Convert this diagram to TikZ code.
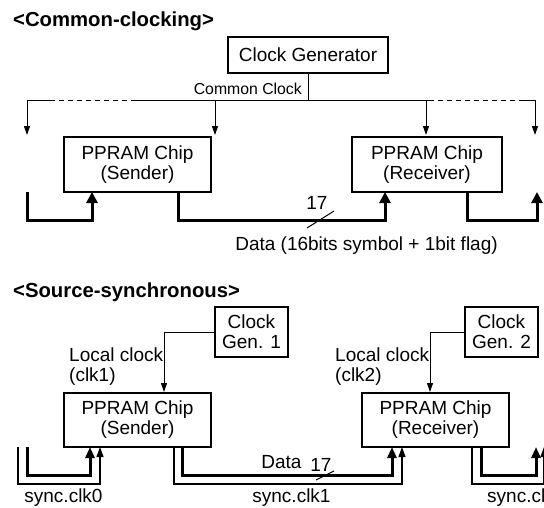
\documentclass[tikz,border=0pt]{standalone}
\usepackage{fontspec}
\setmainfont{Liberation Sans}
\usetikzlibrary{arrows.meta}
\begin{document}
\begin{tikzpicture}[x=1pt,y=-1pt,
  box/.style={draw,line width=1.1pt,inner sep=0pt,align=center,
    font=\fontsize{19}{20}\selectfont},
  lbl/.style={inner sep=0pt,font=\fontsize{19}{20}\selectfont},
  small/.style={inner sep=0pt,font=\fontsize{15.8}{18}\selectfont},
  ttl/.style={inner sep=0pt,font=\fontsize{20.3}{22}\selectfont\bfseries},
  wire/.style={line width=1pt},
  dashwire/.style={line width=1pt,dash pattern=on 5pt off 4pt},
  clk/.style={line width=1pt,-{Triangle[width=6pt,length=9pt]}},
  bus/.style={line width=3pt,-{Triangle[width=11pt,length=11pt]}},
  sbus/.style={line width=3pt,-{Triangle[width=9pt,length=11pt]}},
  sclk/.style={line width=1.2pt,-{Triangle[width=7pt,length=10pt]}},
]
\useasboundingbox (0,0) rectangle (544,507);
\clip (0,0) rectangle (544,507);

% ---------------- common clocking ----------------
\node[ttl,anchor=base west] (t1) at (13,26.5) {<Common-clocking>};
\node[box,minimum width=160pt,minimum height=36pt] (cg) at (308,55) {Clock Generator};
\node[small,anchor=base east] (cc) at (302,94) {Common Clock};

\node[box,minimum width=147pt,minimum height=55pt] (s1) at (137.5,164.5)
  {PPRAM Chip\\(Sender)};
\node[box,minimum width=150pt,minimum height=55pt] (r1) at (427,164.5)
  {PPRAM Chip\\(Receiver)};

% clock distribution line
\coordinate (jn)  at (308,100);
\coordinate (tA)  at (27,100);
\coordinate (tB)  at (215,100);
\coordinate (tC)  at (426,100);
\coordinate (tD)  at (535,100);
\coordinate (dA1) at (50,100);
\coordinate (dA2) at (132,100);
\coordinate (dD1) at (429,100);
\coordinate (dD2) at (519,100);
\coordinate (eA)  at (27,135);
\coordinate (eB)  at (215,135);
\coordinate (eC)  at (426,135);
\coordinate (eD)  at (535,135);

\draw[wire] (cg.south) -- (jn);
\draw[wire] (tA) -- (dA1);
\draw[dashwire] (dA1) -- (dA2);
\draw[wire] (dA2) -- (dD1);
\draw[dashwire] (dD1) -- (dD2);
\draw[wire] (dD2) -- (tD);
\draw[clk] (tA) -- (eA);
\draw[clk] (tB) -- (eB);
\draw[clk] (tC) -- (eC);
\draw[clk] (tD) -- (eD);

% data buses
\coordinate (bL0) at (27,192);
\coordinate (bL1) at (92,192);
\coordinate (bM0) at (178,192);
\coordinate (bM1) at (385,192);
\coordinate (bR0) at (467,192);
\coordinate (bR1) at (537,192);
\draw[bus] (bL0) -- (27,220) -- (92,220) -- (bL1);
\draw[bus] (bM0) -- (178,220) -- (385,220) -- (bM1);
\draw[bus] (bR0) -- (467,220) -- (537,220) -- (bR1);

\node[lbl] (n17a) at (317,203) {17};
\coordinate (sa1) at (307,228);
\coordinate (sa2) at (334,211);
\draw[wire] (sa1) -- (sa2);
\node[lbl] (dat1) at (366.5,246) {Data (16bits symbol + 1bit flag)};

% ---------------- source synchronous ----------------
\node[ttl,anchor=base west] (t2) at (13,297) {<Source-synchronous>};
\node[box,minimum width=73pt,minimum height=50pt] (g1) at (251.5,332) {Clock\\Gen. 1};
\node[box,minimum width=73pt,minimum height=50pt] (g2) at (501.5,332) {Clock\\Gen. 2};

\node[box,minimum width=147pt,minimum height=54pt] (s2) at (137.5,420)
  {PPRAM Chip\\(Sender)};
\node[box,minimum width=147pt,minimum height=54pt] (r2) at (435.5,420)
  {PPRAM Chip\\(Receiver)};

\node[lbl,align=left,anchor=west] (lc1) at (69,367) {Local clock\\(clk1)};
\node[lbl,align=left,anchor=west] (lc2) at (335,367) {Local clock\\(clk2)};

\coordinate (k1) at (164,392);
\coordinate (k2) at (430,392);
\draw[clk] (g1.west) -| (k1);
\draw[clk] (g2.west) -| (k2);

% sync clocks (thin) and data (thick)
\coordinate (pL0) at (27,447);
\coordinate (pL1) at (90,447);
\coordinate (qL0) at (18,447);
\coordinate (qL1) at (100,447);
\coordinate (pM0) at (182,447);
\coordinate (pM1) at (392,447);
\coordinate (qM0) at (174,447);
\coordinate (qM1) at (402,447);
\coordinate (pR0) at (481,447);
\coordinate (pR1) at (536,447);
\coordinate (qR0) at (472,447);
\coordinate (qR1) at (544,447);

\draw[sclk] (qL0) -- (18,484) -- (100,484) -- (qL1);
\draw[sbus] (pL0) -- (27,475) -- (90,475) -- (pL1);
\draw[sclk] (qM0) -- (174,484) -- (402,484) -- (qM1);
\draw[sbus] (pM0) -- (182,475) -- (392,475) -- (pM1);
\draw[sclk] (qR0) -- (472,484) -- (544,484) -- (qR1);
\draw[sbus] (pR0) -- (481,475) -- (536,475) -- (pR1);

\node[lbl] (dat2) at (281.5,462) {Data};
\node[lbl] (n17b) at (321,465) {17};
\coordinate (sb1) at (316,480);
\coordinate (sb2) at (334,471);
\draw[wire] (sb1) -- (sb2);

\node[lbl] (sc0) at (63.5,498) {sync.clk0};
\node[lbl] (sc1) at (291.5,498) {sync.clk1};
\node[lbl,anchor=west] (sc2) at (487,498) {sync.clk2};
\end{tikzpicture}
\end{document}
